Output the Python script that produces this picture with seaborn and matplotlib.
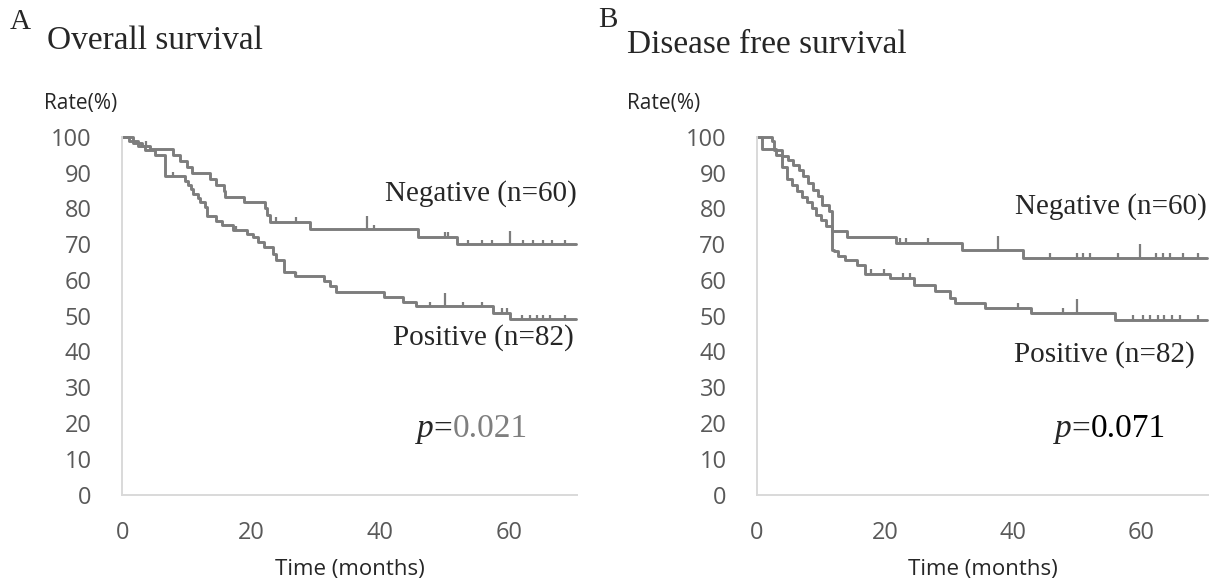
import numpy as np
import pandas as pd
import seaborn as sns
import matplotlib.pyplot as plt

# Overall survival (panel A): step change times (months) and survival level (%) after each step
os_neg_time = [0, 1.7, 3.0, 4.3, 7.9, 8.9, 10.0, 10.8, 13.6, 14.6, 15.7, 16.0, 18.8, 22.1, 22.5, 22.9,
               29.1, 45.9, 51.9, 70.4]
os_neg_surv = [100, 98.3, 97.5, 96.7, 95.0, 93.3, 91.7, 90.0, 88.3, 86.7, 85.0, 83.3, 81.7, 80.0, 78.3, 76.2,
               74.2, 72.0, 70.0, 70.0]
os_neg_censor = [3.6, 23.9, 27.0, 37.9, 39.0, 50.0, 50.5, 53.6, 55.7, 57.3, 60.1, 62.2, 63.7, 65.3, 66.6, 68.6]
os_neg_tall = [37.9, 60.1]

os_pos_time = [0, 1.0, 2.5, 3.5, 5.0, 6.6, 9.7, 10.2, 10.7, 11.0, 11.8, 12.1, 12.8, 13.1, 14.6, 15.4, 17.2,
               19.3, 20.3, 21.1, 21.9, 23.4, 23.9, 25.0, 26.8, 31.2, 32.2, 33.2, 40.6, 43.5, 45.6, 57.5,
               60.1, 70.4]
os_pos_surv = [100, 98.8, 97.6, 96.3, 95.1, 89.0, 87.8, 86.6, 85.4, 84.1, 82.9, 81.7, 80.5, 77.9, 76.4, 75.3,
               73.9, 72.8, 72.0, 70.7, 69.3, 67.4, 65.5, 62.3, 61.0, 59.6, 58.2, 56.7, 55.3, 53.9, 52.6,
               50.8, 49.0, 49.0]
os_pos_censor = [7.9, 17.7, 27.0, 47.7, 50.0, 52.9, 55.7, 58.8, 59.6, 61.9, 63.2, 64.3, 65.3, 66.3, 68.6]
os_pos_tall = [50.0]

# Disease free survival (panel B)
dfs_neg_time = [0, 0.8, 3.0, 3.9, 4.7, 5.5, 6.2, 7.0, 7.8, 8.6, 9.3, 10.0, 10.8, 11.7, 14.0, 21.8, 32.0,
                41.6, 70.4]
dfs_neg_surv = [100, 96.7, 95.0, 91.7, 88.3, 86.7, 85.0, 83.3, 81.7, 80.0, 78.3, 76.7, 75.0, 73.6, 72.0,
                70.4, 68.5, 66.2, 66.2]
dfs_neg_censor = [22.4, 23.3, 26.8, 37.7, 45.8, 50.0, 51.0, 52.0, 56.5, 59.8, 62.4, 63.5, 64.5, 66.6, 69.0]
dfs_neg_tall = [37.7, 59.8]

dfs_pos_time = [0, 2.3, 2.6, 3.9, 4.9, 5.7, 6.5, 7.2, 8.0, 8.8, 9.6, 10.1, 11.2, 11.7, 12.0, 12.7, 13.7,
                15.6, 16.9, 20.8, 24.5, 27.8, 30.2, 31.0, 35.6, 42.9, 55.9, 70.4]
dfs_pos_surv = [100, 98.8, 96.5, 94.6, 93.7, 92.3, 90.9, 89.0, 87.2, 85.3, 83.4, 81.1, 79.4, 68.5, 68.0,
                66.6, 65.7, 64.3, 61.8, 60.6, 58.7, 56.8, 55.0, 53.6, 52.2, 50.8, 48.9, 48.9]
dfs_pos_censor = [1.9, 17.8, 19.8, 22.9, 23.9, 40.8, 47.8, 50.0, 58.8, 60.3, 61.4, 62.7, 63.7, 64.8,
                  66.1, 68.9]
dfs_pos_tall = [50.0]

x_ticks = [0, 20, 40, 60]
y_ticks = list(range(0, 101, 10))

LINE = "#7d7d7d"
AXIS = "#d9d9d9"
TICKLAB = "#595959"
SANS = "Open Sans"
SERIF = "Liberation Serif"

sns.set_style("white")
plt.rcParams["font.family"] = [SANS, "DejaVu Sans"]

W, H = 1215, 582
fig = plt.figure(figsize=(W / 100, H / 100), dpi=100)


def make_axes(x0_px, x1_px):
    ax = fig.add_axes([x0_px / W, 1 - 494.5 / H, (x1_px - x0_px) / W, (494.5 - 137) / H])
    return ax


def draw_curve(ax, times, surv, censor, tall):
    df = pd.DataFrame({"time": times, "surv": surv})
    sns.lineplot(data=df, x="time", y="surv", drawstyle="steps-post", estimator=None,
                 color=LINE, linewidth=2.1, ax=ax)
    t = np.asarray(times)
    s = np.asarray(surv)
    c = np.asarray(censor)
    lev = s[np.searchsorted(t, c, side="right") - 1]
    h = np.where(np.isin(c, tall), 3.8, 1.3)
    ax.vlines(c, lev, lev + h, color=LINE, linewidth=1.6)


def style_axes(ax):
    ax.set_xlim(0, 70.5)
    ax.set_ylim(0, 100)
    ax.set_xticks(x_ticks)
    ax.set_yticks(y_ticks)
    for side in ["top", "right"]:
        ax.spines[side].set_visible(False)
    for side in ["left", "bottom"]:
        ax.spines[side].set_color(AXIS)
        ax.spines[side].set_linewidth(1.4)
    ax.tick_params(axis="x", direction="out", length=7, width=1.2, color=AXIS, pad=12,
                   labelsize=17, labelcolor=TICKLAB)
    ax.tick_params(axis="y", direction="out", length=8, width=1.2, color=AXIS, pad=14,
                   labelsize=17, labelcolor=TICKLAB)
    ax.set_xlabel("")
    ax.set_ylabel("")
    for ln in ax.lines:
        ln.set_clip_on(False)


def p_value(ax, x, y, num, num_color):
    t1 = ax.text(x, y, "p", family=SERIF, style="italic", fontsize=24, va="baseline", ha="left")
    fig.canvas.draw()
    x1 = ax.transData.inverted().transform((t1.get_window_extent().x1, 0))[0]
    t2 = ax.text(x1, y, "=", family=SERIF, fontsize=24, va="baseline", ha="left")
    fig.canvas.draw()
    x2 = ax.transData.inverted().transform((t2.get_window_extent().x1, 0))[0]
    ax.text(x2, y, num, family=SERIF, fontsize=24, va="baseline", ha="left", color=num_color)


# Panel A
ax1 = make_axes(122.3, 577)
draw_curve(ax1, os_neg_time, os_neg_surv, os_neg_censor, os_neg_tall)
draw_curve(ax1, os_pos_time, os_pos_surv, os_pos_censor, os_pos_tall)
style_axes(ax1)
ax1.text(70.5, 84.3, "Negative (n=60)", family=SERIF, fontsize=21, ha="right", va="center")
ax1.text(70.0, 44.0, "Positive (n=82)", family=SERIF, fontsize=21, ha="right", va="center")
p_value(ax1, 45.7, 16.0, "0.021", "#7f7f7f")

# Panel B
ax2 = make_axes(757, 1208)
draw_curve(ax2, dfs_neg_time, dfs_neg_surv, dfs_neg_censor, dfs_neg_tall)
draw_curve(ax2, dfs_pos_time, dfs_pos_surv, dfs_pos_censor, dfs_pos_tall)
style_axes(ax2)
ax2.text(70.3, 80.5, "Negative (n=60)", family=SERIF, fontsize=21, ha="right", va="center")
ax2.text(68.4, 39.1, "Positive (n=82)", family=SERIF, fontsize=21, ha="right", va="center")
p_value(ax2, 46.6, 16.0, "0.071", "black")

# panel letters, titles, axis captions
fig.text(10 / W, 1 - 22 / H, "A", family=SERIF, fontsize=21, va="center", ha="left")
fig.text(47 / W, 1 - 41 / H, "Overall survival", family=SERIF, fontsize=24, va="center", ha="left")
fig.text(598 / W, 1 - 20 / H, "B", family=SERIF, fontsize=21, va="center", ha="left")
fig.text(627 / W, 1 - 45 / H, "Disease free survival", family=SERIF, fontsize=24, va="center", ha="left")

fig.text(44 / W, 1 - 103 / H, "Rate(%)", fontsize=15, va="center", ha="left")
fig.text(627 / W, 1 - 103 / H, "Rate(%)", fontsize=15, va="center", ha="left")
fig.text((122.3 + 577) / 2 / W, 1 - 569 / H, "Time (months)", fontsize=16, va="center", ha="center")
fig.text((757 + 1208) / 2 / W, 1 - 569 / H, "Time (months)", fontsize=16, va="center", ha="center")

fig.savefig("out.png", dpi=100)
